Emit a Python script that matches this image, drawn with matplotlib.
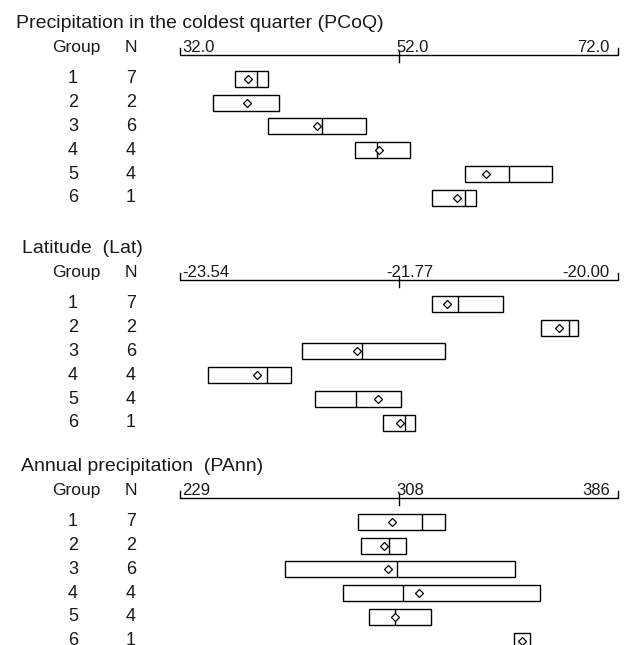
import numpy as np
import matplotlib.pyplot as plt

plt.rcParams['font.family'] = ['Liberation Sans', 'DejaVu Sans']

# data
groups = [1, 2, 3, 4, 5, 6]
n_obs = [7, 2, 6, 4, 4, 1]

pcoq_lo = [37.0, 35.0, 40.0, 48.0, 58.0, 55.0]
pcoq_hi = [40.0, 41.0, 49.0, 53.0, 66.0, 59.0]
pcoq_med = [39.0, np.nan, 45.0, 50.0, 62.0, 58.0]
pcoq_mean = [38.2, 38.1, 44.5, 50.2, 59.9, 57.3]
pcoq_ticks = [32.0, 52.0, 72.0]
pcoq_labels = ['32.0', '52.0', '72.0']

lat_lo = [-21.50, -20.62, -22.55, -23.31, -22.45, -21.90]
lat_hi = [-20.93, -20.32, -21.40, -22.64, -21.75, -21.64]
lat_med = [-21.29, -20.40, -22.07, -22.84, -22.12, -21.72]
lat_mean = [-21.38, -20.48, -22.11, -22.92, -21.94, -21.76]
lat_ticks = [-23.54, -21.77, -20.00]
lat_labels = ['-23.54', '-21.77', '-20.00']

pann_lo = [292.8, 293.7, 266.6, 287.6, 296.7, 348.7]
pann_hi = [323.9, 309.9, 349.0, 358.0, 318.9, 354.4]
pann_med = [315.9, 303.9, 306.8, 308.8, 306.0, np.nan]
pann_mean = [305.0, 302.1, 303.6, 314.6, 306.1, 351.7]
pann_ticks = [229, 307.5, 386]
pann_labels = ['229', '308', '386']

titles = ['Precipitation in the coldest quarter (PCoQ)',
          'Latitude  (Lat)',
          'Annual precipitation  (PAnn)']

W, H = 629, 645
fig = plt.figure(figsize=(W / 100, H / 100), dpi=100)

row_px = 23.8      # pixel distance between rows
x0, xw = 180, 438  # pixel extent of the scale
axis_y = [55, 280, 498]
title_x = [16, 22, 21]
txt_col = '#1a1a1a'

panels = [
    (pcoq_lo, pcoq_hi, pcoq_med, pcoq_mean, pcoq_ticks, pcoq_labels),
    (lat_lo, lat_hi, lat_med, lat_mean, lat_ticks, lat_labels),
    (pann_lo, pann_hi, pann_med, pann_mean, pann_ticks, pann_labels),
]

nrows = 6.6
for k, (lo, hi, med, mean, ticks, labels) in enumerate(panels):
    top = axis_y[k]
    ax = fig.add_axes([x0 / W, 1 - (top + nrows * row_px) / H,
                       xw / W, nrows * row_px / H])
    ax.set_xlim(ticks[0], ticks[-1])
    ax.set_ylim(nrows, 0)
    ax.axis('off')

    lo = np.array(lo)
    hi = np.array(hi)
    bh = 16 / row_px
    ax.barh(groups, hi - lo, left=lo, height=bh, fill=False,
            edgecolor='black', linewidth=1.0, clip_on=False)
    g = np.array(groups)
    ax.vlines(med, g - bh / 2, g + bh / 2, color='black', linewidth=1.0,
              clip_on=False)
    ax.plot(mean, groups, linestyle='none', marker='D', markersize=4.0,
            markerfacecolor='white', markeredgecolor='black',
            markeredgewidth=0.9, clip_on=False)

    # scale line on top
    end = 7 / row_px
    ax.plot([ticks[0], ticks[0], ticks[-1], ticks[-1]], [-end, 0, 0, -end],
            color='black', linewidth=1.0, clip_on=False)
    ax.plot([ticks[1], ticks[1]], [-4 / row_px, 7 / row_px],
            color='black', linewidth=1.0, clip_on=False)
    ax.annotate(labels[0], (ticks[0], 0), xytext=(1.5, 2),
                textcoords='offset points', ha='left', va='baseline',
                fontsize=12, color=txt_col)
    mid_dx = -9 if labels[1].startswith('-') else -2
    ax.annotate(labels[1], (ticks[1], 0), xytext=(mid_dx, 2),
                textcoords='offset points', ha='left', va='baseline',
                fontsize=12, color=txt_col)
    ax.annotate(labels[2], (ticks[2], 0), xytext=(-6, 2),
                textcoords='offset points', ha='right', va='baseline',
                fontsize=12, color=txt_col)

    # left-hand text
    tr = ax.get_yaxis_transform()
    ax.text((title_x[k] - x0) / xw, -1.32, titles[k], transform=tr,
            ha='left', va='center', fontsize=14, color=txt_col)
    ax.text((76 - x0) / xw, -0.3, 'Group', transform=tr, ha='center',
            va='center', fontsize=12.5, color=txt_col)
    ax.text((131 - x0) / xw, -0.3, 'N', transform=tr, ha='center',
            va='center', fontsize=12.5, color=txt_col)
    for gi, ni in zip(groups, n_obs):
        ax.text((73 - x0) / xw, gi, str(gi), transform=tr, ha='center',
                va='center', fontsize=13, color=txt_col, clip_on=False)
        ax.text((131 - x0) / xw, gi, str(ni), transform=tr, ha='center',
                va='center', fontsize=13, color=txt_col, clip_on=False)

fig.savefig('out.png', dpi=100)
